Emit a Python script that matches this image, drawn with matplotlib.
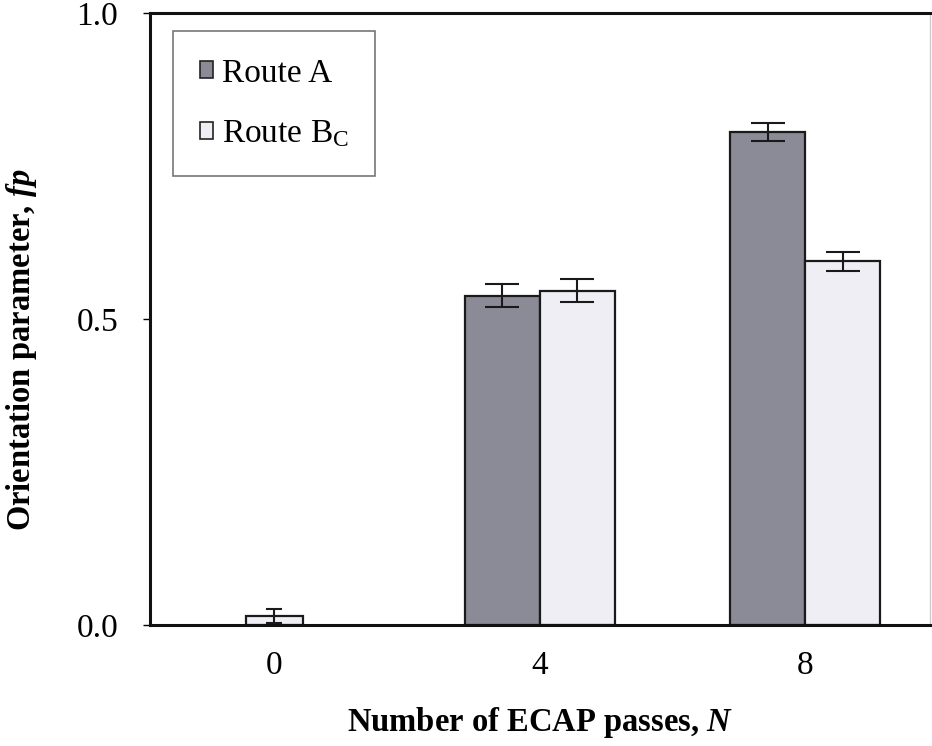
import numpy as np
import matplotlib
matplotlib.use("Agg")
import matplotlib.pyplot as plt
from matplotlib.patches import Patch

# data
passes = ["0", "4", "8"]
route_a = [0.0, 0.538, 0.806]
route_a_err = [0.0, 0.019, 0.015]
route_bc = [0.015, 0.546, 0.594]
route_bc_err = [0.011, 0.019, 0.016]

plt.rcParams['font.family'] = ['Liberation Serif', 'DejaVu Serif']
plt.rcParams['mathtext.fontset'] = 'custom'
plt.rcParams['mathtext.rm'] = 'Liberation Serif'
plt.rcParams['mathtext.it'] = 'Liberation Serif:italic:bold'
plt.rcParams['mathtext.bf'] = 'Liberation Serif:bold'

fig = plt.figure(figsize=(9.32, 7.46), dpi=100)
ax = fig.add_axes([150/932, 1-625/746, 780/932, 612/746])

col_a = '#8b8b97'
col_b = '#eeeef4'
w = 0.283
x = np.arange(len(passes))

# N=0 has only the starting material, drawn alone and centred
ax.bar(x[1:] - w/2, route_a[1:], w, yerr=route_a_err[1:], color=col_a,
       edgecolor='#1a1a1a', linewidth=1.6, capsize=12,
       error_kw=dict(elinewidth=1.5, capthick=1.5, ecolor='#1a1a1a'))
ax.bar(x[1:] + w/2, route_bc[1:], w, yerr=route_bc_err[1:], color=col_b,
       edgecolor='#1a1a1a', linewidth=1.6, capsize=12,
       error_kw=dict(elinewidth=1.5, capthick=1.5, ecolor='#1a1a1a'))
ax.bar(x[0], route_bc[0], 0.215, yerr=route_bc_err[0], color=col_b,
       edgecolor='#1a1a1a', linewidth=1.6, capsize=6,
       error_kw=dict(elinewidth=1.5, capthick=1.5, ecolor='#1a1a1a'))

ax.set_xlim(-0.468, 2.47)
ax.set_ylim(0, 1.0)
ax.set_yticks([0.0, 0.5, 1.0])
ax.set_yticklabels(['0.0', '0.5', '1.0'])
ax.set_xticks(x)
ax.set_xticklabels(passes)
ax.tick_params(axis='x', length=0, pad=18, labelsize=24)
ax.tick_params(axis='y', length=5, width=1, pad=18, labelsize=24)

for s in ['left', 'bottom', 'top']:
    ax.spines[s].set_linewidth(2.2)
    ax.spines[s].set_color('#111111')
ax.spines['right'].set_linewidth(1)
ax.spines['right'].set_color('#cccccc')

ax.set_xlabel('Number of ECAP passes, $\\it{N}$', fontsize=23.5, fontweight='bold', labelpad=18)
ax.set_ylabel('Orientation parameter, $\\it{fp}$', fontsize=23.5, fontweight='bold')
ax.yaxis.set_label_coords(-0.142, 0.45)

handles = [Patch(facecolor=col_a, edgecolor='#222222', linewidth=1.2),
           Patch(facecolor=col_b, edgecolor='#222222', linewidth=1.2)]
leg = ax.legend(handles, ['Route A', 'Route B$_\\mathregular{C}$'], loc='upper left',
                bbox_to_anchor=(0.03, 0.97), fontsize=24, frameon=True, fancybox=False,
                edgecolor='#555555', handlelength=0.4, handleheight=0.4,
                handletextpad=0.25, labelspacing=0.9, borderpad=0.8, borderaxespad=0)
leg.get_frame().set_linewidth(1.2)

fig.savefig('out.png', dpi=100)
